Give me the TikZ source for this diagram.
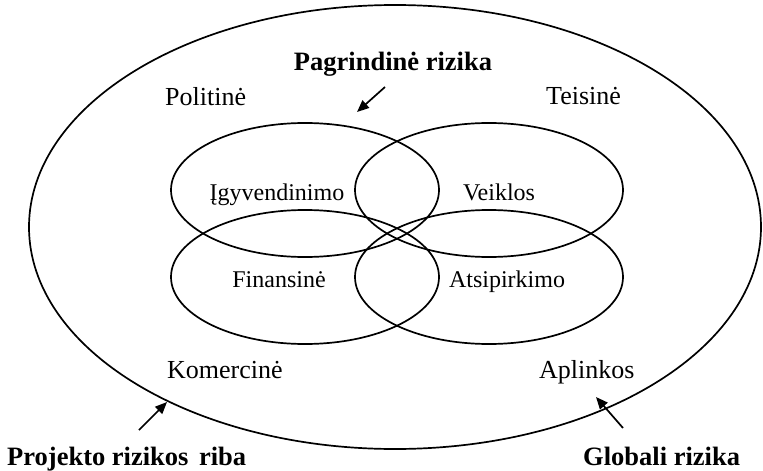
\documentclass[tikz,border=0pt]{standalone}
\usepackage{fontspec}
\setmainfont{Liberation Serif}
\usetikzlibrary{arrows.meta,shapes.geometric}

\tikzset{
  ring/.style={draw, ellipse, line width=1.7pt, inner sep=0pt, outer sep=0pt},
  zone/.style={ring, minimum width=268pt, minimum height=134pt},
  outerlbl/.style={inner sep=0pt, anchor=base west, font=\fontsize{26}{30}\selectfont},
  innerlbl/.style={inner sep=0pt, anchor=base, font=\fontsize{24}{28}\selectfont},
  boldlbl/.style={inner sep=0pt, font=\bfseries\fontsize{26.5}{30}\selectfont},
  pointer/.style={line width=1.7pt, -{Triangle[length=12pt,width=10pt]}},
}

\begin{document}
\begin{tikzpicture}[x=1pt, y=-1pt]
  \useasboundingbox (0,0) rectangle (763,471);

  % boundary of project risk
  \node[ring, minimum width=732pt, minimum height=444pt] (bound) at (395,227) {};

  % four overlapping core risk zones
  \node[zone] (impl) at (305,190) {};
  \node[zone] (oper) at (489,190) {};
  \node[zone] (fin)  at (305,277) {};
  \node[zone] (pay)  at (489,277) {};

  \node[innerlbl] (limpl) at (277,200) {Įgyvendinimo};
  \node[innerlbl] (loper) at (499,200) {Veiklos};
  \node[innerlbl] (lfin)  at (279,287) {Finansinė};
  \node[innerlbl] (lpay)  at (507,287) {Atsipirkimo};

  % global risk factors
  \node[outerlbl] (pol) at (165,105) {Politinė};
  \node[outerlbl] (law) at (546,104) {Teisinė};
  \node[outerlbl] (com) at (167,378) {Komercinė};
  \node[outerlbl] (env) at (539,378) {Aplinkos};

  % headings
  \node[boldlbl, anchor=base] (main) at (393,70) {Pagrindinė rizika};
  \node[boldlbl, anchor=base west] (edge) at (7,465) {Projekto rizikos\hspace{0.15em} riba};
  \node[boldlbl, anchor=base west] (glob) at (583,465) {Globali rizika};

  % pointers
  \coordinate (p1s) at (385,87);  \coordinate (p1e) at (357,112);
  \coordinate (p2s) at (139,430); \coordinate (p2e) at (167,402);
  \coordinate (p3s) at (623,428); \coordinate (p3e) at (596,397);
  \draw[pointer] (p1s) -- (p1e);
  \draw[pointer] (p2s) -- (p2e);
  \draw[pointer] (p3s) -- (p3e);
\end{tikzpicture}
\end{document}
